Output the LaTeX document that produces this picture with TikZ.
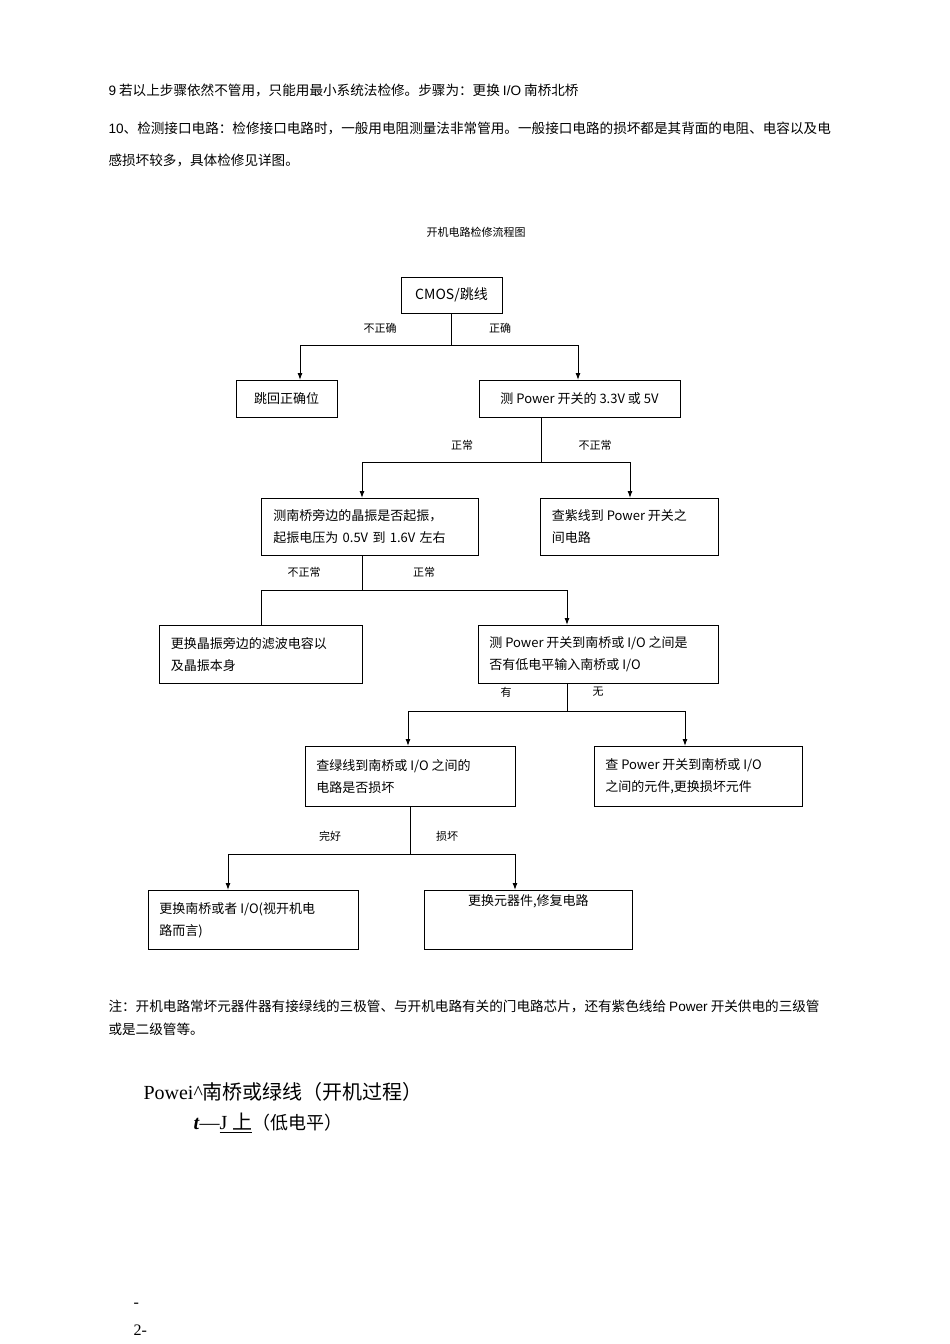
\documentclass[tikz,border=0pt]{standalone}
\usepackage{fontspec}
\setmainfont{Liberation Serif}
\newfontfamily\cjk{Noto Sans CJK SC}
\newfontfamily\arl{Liberation Sans}
\usetikzlibrary{arrows.meta}
\begin{document}
\begin{tikzpicture}[x=1pt,y=-1pt,
 bx/.style={draw,line width=0.7pt,align=left,anchor=north west,inner sep=0pt,font=\cjk\fontsize{13}{22}\selectfont},
 ln/.style={line width=1pt},
 ar/.style={line width=1pt,-{Latex[length=7pt,width=5pt]}},
 lb/.style={font=\cjk\fontsize{11}{13}\selectfont},
 tx/.style={anchor=west,font=\cjk\fontsize{13.6}{15}\selectfont}]
\useasboundingbox[fill=white] (0,0) rectangle (950,1344);
\node[tx] (t1) at (105,90) {{\arl 9} 若以上步骤依然不管用，只能用最小系统法检修。步骤为：更换 {\arl I/O} 南桥北桥};
\node[tx] (t2) at (105,128) {{\arl 10}、检测接口电路：检修接口电路时，一般用电阻测量法非常管用。一般接口电路的损坏都是其背面的电阻、电容以及电};
\node[tx] (t3) at (105,160) {感损坏较多，具体检修见详图。};
\node[lb] (title) at (476,232) {开机电路检修流程图};
% boxes
\node[bx,minimum width=101pt,minimum height=36pt,align=center,anchor=center] (a) at (451.5,295) {\fontsize{14}{16}\selectfont CMOS/跳线};
\node[bx,minimum width=101pt,minimum height=37pt,align=center,anchor=center] (b) at (286.5,398.5) {跳回正确位};
\node[bx,minimum width=201pt,minimum height=37pt,align=center,anchor=center] (c) at (579.5,398.5) {测 Power 开关的 3.3V 或 5V};
\node[bx,minimum width=217pt,minimum height=57pt,text width=205pt] (d) at (261,498) {\hspace*{6pt}\parbox{205pt}{测南桥旁边的晶振是否起振，\\起振电压为 0.5V 到 1.6V 左右}};
\node[bx,minimum width=178pt,minimum height=57pt] (e) at (540,498) {\hspace*{10pt}\parbox{165pt}{查紫线到 Power 开关之\\间电路}};
\node[bx,minimum width=203pt,minimum height=58pt] (f) at (159,625) {\hspace*{10pt}\parbox{190pt}{更换晶振旁边的滤波电容以\\及晶振本身}};
\node[bx,minimum width=240pt,minimum height=58pt] (g) at (478,625) {\hspace*{10pt}\parbox{228pt}{测 Power 开关到南桥或 I/O 之间是\\否有低电平输入南桥或 I/O}};
\node[bx,minimum width=210pt,minimum height=60pt] (h) at (305,746) {\hspace*{10pt}\parbox{198pt}{查绿线到南桥或 I/O 之间的\\电路是否损坏}};
\node[bx,minimum width=208pt,minimum height=60pt] (i) at (594,746) {\hspace*{10pt}\parbox{196pt}{查 Power 开关到南桥或 I/O\\之间的元件,更换损坏元件}};
\node[bx,minimum width=210pt,minimum height=59pt] (j) at (148,890) {\hspace*{10pt}\parbox{198pt}{更换南桥或者 I/O(视开机电\\路而言)}};
\node[bx,minimum width=208pt,minimum height=59pt,align=center] (k) at (424,890) {\parbox[t][59pt][t]{208pt}{\centering\vspace{4pt}更换元器件,修复电路}};
% connectors
\coordinate (p1) at (451.5,345);
\draw[ln] (a.south) -- (p1);
\draw[ar] (p1) -| (300,380);
\draw[ar] (p1) -| (578,380);
\node[lb] (l1) at (380,328) {不正确};
\node[lb] (l2) at (500,328) {正确};
\coordinate (p2) at (541,462);
\draw[ln] (541,417) -- (p2);
\draw[ar] (p2) -| (362,498);
\draw[ar] (p2) -| (630,498);
\node[lb] (l3) at (462,445) {正常};
\node[lb] (l4) at (595,445) {不正常};
\coordinate (p3) at (362,590);
\draw[ln] (362,555) -- (p3);
\draw[ln] (p3) -| (261,625);
\draw[ar] (p3) -| (567,625);
\node[lb] (l5) at (304,572) {不正常};
\node[lb] (l6) at (424,572) {正常};
\coordinate (p4) at (567,711);
\draw[ln] (567,683) -- (p4);
\draw[ar] (p4) -| (408,746);
\draw[ar] (p4) -| (685,746);
\node[lb] (l7) at (506,692) {有};
\node[lb] (l8) at (598,692) {无};
\coordinate (p5) at (410,854);
\draw[ln] (410,806) -- (p5);
\draw[ar] (p5) -| (228,890);
\draw[ar] (p5) -| (515,890);
\node[lb] (l9) at (330,836) {完好};
\node[lb] (l10) at (447,836) {损坏};
% notes
\node[tx] (n1) at (105,1006) {注：开机电路常坏元器件器有接绿线的三极管、与开机电路有关的门电路芯片，还有紫色线给 {\arl Power} 开关供电的三级管};
\node[tx] (n2) at (105,1029) {或是二级管等。};
\node[anchor=west,font=\fontsize{20}{22}\selectfont] (n3) at (140,1092) {Powei\^{}{\cjk 南桥或绿线（开机过程）}};
\node[anchor=west,font=\fontsize{20}{22}\selectfont] (n4) at (190,1123) {\textit{\textbf{t}}—\underline{J {\cjk 上}}{\cjk\fontsize{18}{20}\selectfont（低电平）}};
\node[anchor=west,font=\fontsize{16}{18}\selectfont] (pg1) at (130,1305) {-};
\node[anchor=west,font=\fontsize{16}{18}\selectfont] (pg2) at (130,1330) {2-};
\end{tikzpicture}
\end{document}
